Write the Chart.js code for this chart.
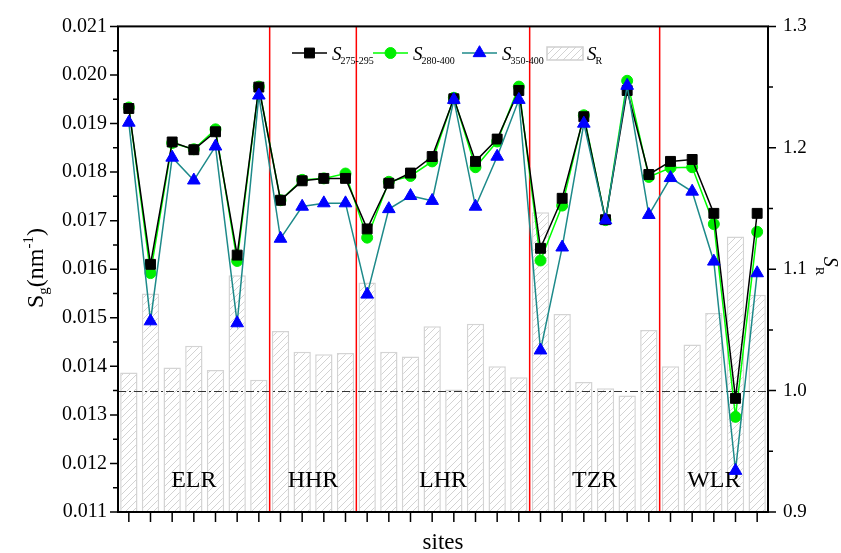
<!DOCTYPE html>
<html>
<head>
<meta charset="utf-8">
<script src="https://cdn.jsdelivr.net/npm/chart.js@4.4.1/dist/chart.umd.min.js"></script>
<style>
  html, body { margin: 0; padding: 0; background: #fff; }
  #caja { width: 841px; height: 553px; }
</style>
</head>
<body>
<div id="caja"><canvas id="grafico" width="841" height="553"></canvas></div>
<script>
// Sitios (eje x)
const sitios = [1, 2, 3, 4, 5, 6, 7, 8, 9, 10, 11, 12, 13, 14, 15, 16, 17, 18, 19, 20, 21, 22, 23, 24, 25, 26, 27, 28, 29, 30];

// Pendientes espectrales Sg (nm-1)
const s275_295 = [0.01931, 0.01610, 0.01862, 0.01846, 0.01883, 0.01629, 0.01975,
                  0.01742, 0.01782, 0.01787, 0.01787,
                  0.01683, 0.01777, 0.01798, 0.01832, 0.01951, 0.01822, 0.01868, 0.01968,
                  0.01643, 0.01746, 0.01914, 0.01702, 0.01968, 0.01795,
                  0.01822, 0.01826, 0.01715, 0.01334, 0.01715];
const s280_400 = [0.01933, 0.01592, 0.01860, 0.01847, 0.01888, 0.01617, 0.01976,
                  0.01742, 0.01784, 0.01787, 0.01797,
                  0.01665, 0.01780, 0.01792, 0.01822, 0.01953, 0.01810, 0.01863, 0.01976,
                  0.01618, 0.01731, 0.01917, 0.01701, 0.01988, 0.01790,
                  0.01809, 0.01810, 0.01693, 0.01296, 0.01677];
const s350_400 = [0.01902, 0.01493, 0.01830, 0.01783, 0.01853, 0.01489, 0.01958,
                  0.01663, 0.01729, 0.01736, 0.01736,
                  0.01548, 0.01724, 0.01751, 0.01741, 0.01949, 0.01729, 0.01832, 0.01949,
                  0.01433, 0.01645, 0.01900, 0.01701, 0.01978, 0.01712,
                  0.01788, 0.01760, 0.01616, 0.01185, 0.01592];

// Cociente SR (eje derecho)
const sR = [1.015, 1.080, 1.019, 1.037, 1.017, 1.095, 1.009,
            1.049, 1.032, 1.030, 1.031,
            1.089, 1.032, 1.028, 1.053, 1.001, 1.055, 1.020, 1.011,
            1.147, 1.063, 1.007, 1.002, 0.996, 1.050,
            1.020, 1.038, 1.064, 1.127, 1.079];

// Regiones y número de sitios en cada una
const regiones = ['ELR', 'HHR', 'LHR', 'TZR', 'WLR'];
const sitiosPorRegion = [7, 4, 8, 6, 5];

// Ticks de los ejes
const ticksIzq = [0.011, 0.012, 0.013, 0.014, 0.015, 0.016, 0.017, 0.018, 0.019, 0.020, 0.021];
const ticksDer = [0.9, 1.0, 1.1, 1.2, 1.3];
const lineaReferencia = 1.0;

document.addEventListener('DOMContentLoaded', function() {
    const serif = '"Liberation Serif", "Times New Roman", serif';
    Chart.defaults.font.family = serif;
    Chart.defaults.color = '#000';

    const ctx = document.getElementById('grafico').getContext('2d');

    // Patrón de rayas para las barras
    function crearRayado() {
        const c = document.createElement('canvas');
        c.width = 7; c.height = 7;
        const p = c.getContext('2d');
        p.fillStyle = '#fff';
        p.fillRect(0, 0, 7, 7);
        p.strokeStyle = '#c8c8c8';
        p.lineWidth = 0.8;
        p.beginPath();
        p.moveTo(0, 7); p.lineTo(7, 0);
        p.moveTo(-1, 1); p.lineTo(1, -1);
        p.moveTo(6, 8); p.lineTo(8, 6);
        p.stroke();
        return ctx.createPattern(c, 'repeat');
    }
    const rayado = crearRayado();

    // Texto con subíndice / superíndice, centrado en x
    function textoCompuesto(c, partes, x, y) {
        let ancho = 0;
        partes.forEach(p => { c.font = p.font; ancho += c.measureText(p.t).width; });
        let xx = x - ancho / 2;
        partes.forEach(p => {
            c.font = p.font;
            c.fillText(p.t, xx, y + (p.dy || 0));
            xx += c.measureText(p.t).width;
        });
    }

    // Regiones, líneas rojas y línea de referencia (entre barras y líneas)
    const pluginRegiones = {
        id: 'regiones',
        afterDatasetDraw(chart, args) {
            if (args.index !== 3) return;
            const c = chart.ctx;
            const a = chart.chartArea;
            const x = chart.scales.x;
            const y2 = chart.scales.y2;
            c.save();
            // línea discontinua SR = 1
            const yr = Math.round(y2.getPixelForValue(lineaReferencia)) + 0.5;
            c.strokeStyle = '#333';
            c.lineWidth = 1.2;
            c.setLineDash([8, 3, 2, 3]);
            c.beginPath(); c.moveTo(a.left, yr); c.lineTo(a.right, yr); c.stroke();
            c.setLineDash([]);
            // separadores de región
            let ini = 0;
            c.font = '24px ' + serif;
            c.textAlign = 'center';
            c.fillStyle = '#000';
            regiones.forEach((nombre, i) => {
                const fin = ini + sitiosPorRegion[i] - 1;
                const xm = (x.getPixelForValue(ini) + x.getPixelForValue(fin)) / 2;
                c.fillText(nombre, xm, 487);
                if (i < regiones.length - 1) {
                    const xs = (x.getPixelForValue(fin) + x.getPixelForValue(fin + 1)) / 2;
                    c.strokeStyle = '#ff0000';
                    c.lineWidth = 1.5;
                    c.beginPath(); c.moveTo(xs, a.top); c.lineTo(xs, a.bottom); c.stroke();
                }
                ini = fin + 1;
            });
            c.restore();
        }
    };

    // Marco, ticks, títulos y leyenda
    const pluginMarco = {
        id: 'marco',
        afterDraw(chart) {
            const c = chart.ctx;
            const a = chart.chartArea;
            const x = chart.scales.x;
            const y = chart.scales.y;
            const y2 = chart.scales.y2;
            c.save();
            c.strokeStyle = '#000';
            c.lineWidth = 2;
            c.strokeRect(a.left, a.top, a.right - a.left, a.bottom - a.top);

            c.lineWidth = 1.5;
            c.beginPath();
            ticksIzq.forEach((v, i) => {
                const py = y.getPixelForValue(v);
                c.moveTo(a.left, py); c.lineTo(a.left - 8, py);
                if (i < ticksIzq.length - 1) {
                    const pm = y.getPixelForValue(v + 0.0005);
                    c.moveTo(a.left, pm); c.lineTo(a.left - 5, pm);
                }
            });
            ticksDer.forEach((v, i) => {
                const py = y2.getPixelForValue(v);
                c.moveTo(a.right, py); c.lineTo(a.right + 8, py);
                if (i < ticksDer.length - 1) {
                    const pm = y2.getPixelForValue(v + 0.05);
                    c.moveTo(a.right, pm); c.lineTo(a.right + 5, pm);
                }
            });
            sitios.forEach((s, i) => {
                const px = x.getPixelForValue(i);
                c.moveTo(px, a.bottom); c.lineTo(px, a.bottom + 10);
            });
            c.stroke();

            c.fillStyle = '#000';
            c.textBaseline = 'alphabetic';
            // título eje x
            c.font = '23px ' + serif;
            c.textAlign = 'center';
            c.fillText('sites', (a.left + a.right) / 2, 549);

            // título eje izquierdo
            c.save();
            c.translate(43, 268);
            c.rotate(-Math.PI / 2);
            c.textAlign = 'left';
            textoCompuesto(c, [
                { t: 'S', font: '24px ' + serif },
                { t: 'g', font: '15px ' + serif, dy: 5 },
                { t: '(nm', font: '24px ' + serif },
                { t: '-1', font: '15px ' + serif, dy: -10 },
                { t: ')', font: '24px ' + serif }
            ], 0, 0);
            c.restore();

            // título eje derecho
            c.save();
            c.translate(824, 266);
            c.rotate(Math.PI / 2);
            c.textAlign = 'left';
            textoCompuesto(c, [
                { t: 'S', font: 'italic 20px ' + serif },
                { t: 'R', font: '13px ' + serif, dy: 8 }
            ], 0, 0);
            c.restore();

            // leyenda
            const yl = 53;
            const items = [
                { x0: 292, tipo: 'rect', color: '#000', relleno: '#000', sub: '275-295' },
                { x0: 373, tipo: 'circle', color: '#00ff00', relleno: '#00ee00', sub: '280-400' },
                { x0: 462, tipo: 'triangle', color: '#1e8a8a', relleno: '#0000ff', sub: '350-400' },
                { x0: 547, tipo: 'barra', sub: 'R' }
            ];
            items.forEach(it => {
                if (it.tipo === 'barra') {
                    c.fillStyle = rayado;
                    c.fillRect(it.x0, yl - 6, 36, 13);
                    c.strokeStyle = '#cfcfcf';
                    c.lineWidth = 1.5;
                    c.strokeRect(it.x0, yl - 6, 36, 13);
                } else {
                    c.strokeStyle = it.color;
                    c.lineWidth = 1.5;
                    c.beginPath(); c.moveTo(it.x0, yl); c.lineTo(it.x0 + 35, yl); c.stroke();
                    const r = it.tipo === 'rect' ? 7 : it.tipo === 'circle' ? 5.5 : 7.3;
                    c.fillStyle = it.relleno;
                    c.strokeStyle = it.tipo === 'triangle' ? '#0000ff' : it.relleno;
                    c.lineWidth = 1;
                    Chart.helpers.drawPoint(c, { pointStyle: it.tipo, radius: r, rotation: 0, borderWidth: 1 }, it.x0 + 17.5, yl);
                }
                c.fillStyle = '#000';
                c.textAlign = 'left';
                const xt = it.x0 + 40;
                c.font = 'italic 19px ' + serif;
                c.fillText('S', xt, yl + 7);
                const w = c.measureText('S').width;
                c.font = '10px ' + serif;
                c.fillText(it.sub, xt + w - 1, yl + 11);
            });
            c.restore();
        }
    };

    new Chart(ctx, {
        type: 'line',
        data: {
            labels: sitios,
            datasets: [
                {
                    label: 'S275-295',
                    data: s275_295,
                    yAxisID: 'y',
                    borderColor: '#000',
                    backgroundColor: '#000',
                    borderWidth: 1.5,
                    pointStyle: 'rect',
                    pointRadius: 7,
                    pointBorderColor: '#000',
                    pointBackgroundColor: '#000',
                    pointBorderWidth: 1,
                    tension: 0,
                    order: 1
                },
                {
                    label: 'S280-400',
                    data: s280_400,
                    yAxisID: 'y',
                    borderColor: '#00ff00',
                    backgroundColor: '#00ee00',
                    borderWidth: 1.5,
                    pointStyle: 'circle',
                    pointRadius: 5.5,
                    pointBorderColor: '#00ee00',
                    pointBackgroundColor: '#00ee00',
                    pointBorderWidth: 1,
                    tension: 0,
                    order: 2
                },
                {
                    label: 'S350-400',
                    data: s350_400,
                    yAxisID: 'y',
                    borderColor: '#1e8a8a',
                    backgroundColor: '#0000ff',
                    borderWidth: 1.5,
                    pointStyle: 'triangle',
                    pointRadius: 7.3,
                    pointBorderColor: '#0000ff',
                    pointBackgroundColor: '#0000ff',
                    pointBorderWidth: 1,
                    tension: 0,
                    order: 0
                },
                {
                    type: 'bar',
                    label: 'SR',
                    data: sR,
                    yAxisID: 'y2',
                    backgroundColor: rayado,
                    borderColor: '#d4d4d4',
                    borderWidth: 1.5,
                    borderSkipped: false,
                    barPercentage: 0.8,
                    categoryPercentage: 1.0,
                    order: 3
                }
            ]
        },
        options: {
            responsive: false,
            animation: false,
            layout: { padding: { top: 20, left: 0, right: 0, bottom: 0 } },
            plugins: {
                legend: { display: false },
                tooltip: { enabled: false }
            },
            scales: {
                x: {
                    type: 'category',
                    offset: true,
                    grid: { display: false, drawTicks: false },
                    border: { display: false },
                    ticks: { display: false },
                    afterFit: s => { s.height = 41; }
                },
                y: {
                    position: 'left',
                    min: 0.011,
                    max: 0.021,
                    grid: { display: false, drawTicks: false },
                    border: { display: false },
                    ticks: {
                        stepSize: 0.001,
                        padding: 11,
                        font: { family: serif, size: 20 },
                        color: '#000',
                        callback: v => v.toFixed(3)
                    },
                    afterFit: s => { s.width = 118; }
                },
                y2: {
                    position: 'right',
                    min: 0.9,
                    max: 1.3,
                    beginAtZero: false,
                    grid: { display: false, drawTicks: false },
                    border: { display: false },
                    ticks: {
                        stepSize: 0.1,
                        padding: 15,
                        font: { family: serif, size: 19 },
                        color: '#000',
                        callback: v => v.toFixed(1)
                    },
                    afterFit: s => { s.width = 73; }
                }
            }
        },
        plugins: [pluginRegiones, pluginMarco]
    });
});
</script>
</body>
</html>
